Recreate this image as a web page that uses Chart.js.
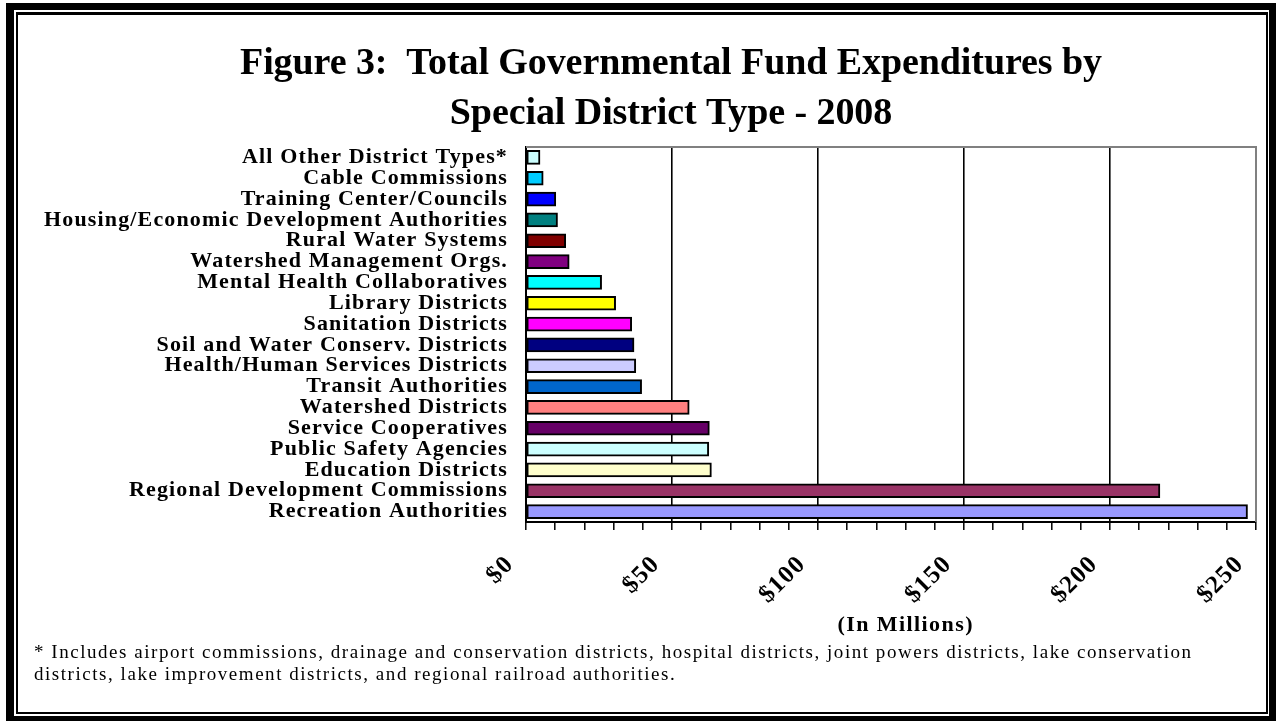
<!DOCTYPE html>
<html><head><meta charset="utf-8">
<script src="https://cdn.jsdelivr.net/npm/chart.js@4.4.0/dist/chart.umd.min.js"></script>
<style>html,body{margin:0;padding:0;background:#fff;overflow:hidden}#wrap{position:relative;width:1276px;height:723px}</style>
</head><body><div id="wrap"><canvas id="c" width="1276" height="723"></canvas></div>
<script>
const categories = [
  'All Other District Types*',
  'Cable Commissions',
  'Training Center/Councils',
  'Housing/Economic Development Authorities',
  'Rural Water Systems',
  'Watershed Management Orgs.',
  'Mental Health Collaboratives',
  'Library Districts',
  'Sanitation Districts',
  'Soil and Water Conserv. Districts',
  'Health/Human Services Districts',
  'Transit Authorities',
  'Watershed Districts',
  'Service Cooperatives',
  'Public Safety Agencies',
  'Education Districts',
  'Regional Development Commissions',
  'Recreation Authorities'
];
const expenditures = [4.8, 5.9, 10.2, 10.8, 13.6, 14.8, 25.9, 30.7, 36.2, 37.0, 37.6, 39.6, 55.9, 62.8, 62.6, 63.5, 217.1, 247.1];
const barColors = ['#CCFFFF','#00CCFF','#0000FF','#008080','#800000','#800080','#00FFFF','#FFFF00','#FF00FF','#000080','#CCCCFF','#0066CC','#FF8080','#660066','#CCFFFF','#FFFFCC','#993366','#9999FF'];
const xMin = 0, xMax = 250, xMinorStep = 10, xMajorStep = 50;
const titleLines = ['Figure 3:  Total Governmental Fund Expenditures by', 'Special District Type - 2008'];
const axisTitle = '(In Millions)';
const footnoteLines = [
  '* Includes airport commissions, drainage and conservation districts, hospital districts, joint powers districts, lake conservation',
  'districts, lake improvement districts, and regional railroad authorities.'
];

const SERIF = '"Liberation Serif", "Times New Roman", serif';
const TICK_SPACING = '1.15px';

function drawFit(ctx, text, x, y, target, center) {
  ctx.letterSpacing = '0px';
  const w = ctx.measureText(text).width;
  const sp = (target - w) / Math.max(1, text.length - 1);
  ctx.letterSpacing = sp + 'px';
  ctx.textAlign = 'left';
  ctx.fillText(text, center ? x - target / 2 : x, y);
  return sp;
}

const decor = {
  id: 'decor',
  beforeUpdate(chart) { chart.ctx.letterSpacing = TICK_SPACING; },
  beforeDraw(chart) { chart.ctx.letterSpacing = TICK_SPACING; },
  beforeDatasetsDraw(chart) {
    const {ctx, chartArea: a} = chart;
    ctx.save();
    ctx.strokeStyle = '#808080';
    ctx.lineWidth = 2;
    ctx.beginPath();
    ctx.moveTo(a.left, a.top); ctx.lineTo(a.right, a.top); ctx.lineTo(a.right, a.bottom);
    ctx.stroke();
    ctx.restore();
  },
  afterDraw(chart) {
    const ctx = chart.ctx;
    ctx.save();
    ctx.fillStyle = '#000';
    // outer thick frame
    ctx.fillRect(6, 3, 1270, 7);
    ctx.fillRect(6, 3, 8, 718);
    ctx.fillRect(1269, 3, 7, 718);
    ctx.fillRect(6, 716, 1270, 5);
    // inner thin frame
    ctx.fillRect(16, 12, 1252, 3);
    ctx.fillRect(16, 12, 2, 702);
    ctx.fillRect(1266, 12, 2, 702);
    ctx.fillRect(16, 712, 1252, 2);
    ctx.textBaseline = 'alphabetic';
    // title
    ctx.font = 'bold 38px ' + SERIF;
    const tsp = drawFit(ctx, titleLines[0], 671, 74, 862, true);
    ctx.letterSpacing = tsp + 'px';
    ctx.textAlign = 'center';
    ctx.fillText(titleLines[1], 671, 124);
    // axis title
    ctx.font = 'bold 22px ' + SERIF;
    drawFit(ctx, axisTitle, 905, 631, 135, true);
    // footnote
    ctx.font = '19px ' + SERIF;
    const sp = drawFit(ctx, footnoteLines[0], 34, 658, 1157, false);
    ctx.letterSpacing = sp + 'px';
    ctx.fillText(footnoteLines[1], 34, 680);
    ctx.restore();
    ctx.letterSpacing = TICK_SPACING;
  }
};

new Chart(document.getElementById('c'), {
  type: 'bar',
  data: {
    labels: categories,
    datasets: [{
      data: expenditures,
      backgroundColor: barColors,
      borderColor: '#000',
      borderWidth: 2,
      borderSkipped: false,
      barThickness: 14
    }]
  },
  options: {
    indexAxis: 'y',
    responsive: false,
    animation: false,
    devicePixelRatio: 1,
    layout: { padding: { top: 147, left: 0, right: 20, bottom: 0 } },
    plugins: { legend: { display: false }, tooltip: { enabled: false }, title: { display: false } },
    scales: {
      x: {
        type: 'linear', min: xMin, max: xMax,
        afterFit(s) { s.height = 201; s.paddingLeft = 0; s.paddingRight = 0; },
        afterBuildTicks(s) {
          const t = [];
          for (let v = xMin; v <= xMax; v += xMinorStep) t.push({ value: v });
          s.ticks = t;
        },
        ticks: {
          autoSkip: false, minRotation: 45, maxRotation: 45, padding: 20, labelOffset: -16,
          color: '#000',
          font: { family: SERIF, size: 25, weight: 'bold' },
          callback: v => (v % xMajorStep === 0 ? '$' + v : '')
        },
        grid: {
          drawOnChartArea: true,
          color: c => (c.tick && c.tick.value % xMajorStep === 0 && c.tick.value !== xMin ? (c.tick.value === xMax ? '#808080' : '#000') : 'rgba(0,0,0,0)'),
          lineWidth: 1.6,
          tickColor: '#000', tickWidth: 1.5, tickLength: 8
        },
        border: { display: true, color: '#000', width: 2 }
      },
      y: {
        type: 'category',
        afterFit(s) { s.width = 526; },
        ticks: { color: '#000', padding: 10, font: { family: SERIF, size: 22, weight: 'bold' }, autoSkip: false },
        grid: { display: false },
        border: { display: true, color: '#000', width: 2 }
      }
    }
  },
  plugins: [decor]
});
</script>
</body></html>
